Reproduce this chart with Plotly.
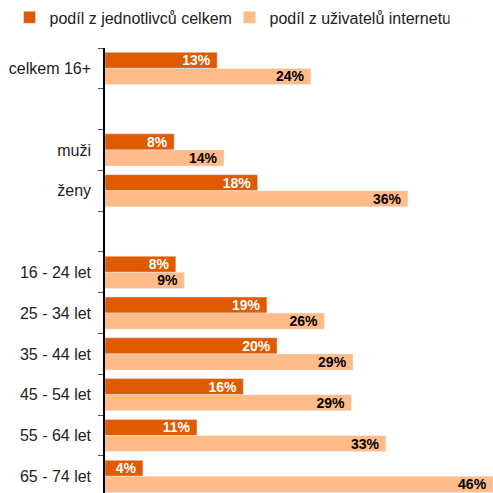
import plotly.graph_objects as go

categories = ["celkem 16+", " ", "muži", "ženy", "  ", "16 - 24 let", "25 - 34 let",
              "35 - 44 let", "45 - 54 let", "55 - 64 let", "65 - 74 let"]
celkem = [13.3, None, 8.2, 18.1, None, 8.4, 19.2, 20.4, 16.4, 10.9, 4.5]
internet = [24.4, None, 14.1, 35.9, None, 9.4, 26.0, 29.4, 29.2, 33.3, 46.0]
series_names = ["podíl z jednotlivců celkem", "podíl z uživatelů internetu"]

def labels(vals):
    return [("" if v is None else f"{round(v)}%") for v in vals]

fig = go.Figure()
fig.add_trace(go.Bar(
    y=categories, x=celkem, name=series_names[0], orientation="h",
    marker_color="#E05A00", text=labels(celkem), textposition="inside",
    insidetextanchor="end", textfont=dict(color="white", size=14, family="Liberation Sans"),
    texttemplate="<b>%{text}</b>\u00a0", cliponaxis=False,
))
fig.add_trace(go.Bar(
    y=categories, x=internet, name=series_names[1], orientation="h",
    marker_color="#FFBB88", text=labels(internet), textposition="inside",
    insidetextanchor="end", textfont=dict(color="black", size=14, family="Liberation Sans"),
    texttemplate="<b>%{text}</b>\u00a0", cliponaxis=False,
))

fig.update_layout(
    width=493, height=493,
    margin=dict(l=105, r=0, t=48, b=0, autoexpand=False),
    barmode="group", bargap=0.21, bargroupgap=0,
    plot_bgcolor="white", paper_bgcolor="white",
    font=dict(family="Liberation Sans", size=16, color="#222222"),
    uniformtext=dict(minsize=14, mode="show"),
    showlegend=True,
    legend=dict(orientation="h", xref="paper", yref="paper",
                x=-0.246, y=1.107, xanchor="left", yanchor="top",
                font=dict(size=16), entrywidth=175, entrywidthmode="pixels",
                itemwidth=30, traceorder="normal"),
)
fig.update_xaxes(range=[0, 46.0], visible=False)
fig.update_yaxes(
    type="category", categoryorder="array", categoryarray=categories,
    range=[10.41, -0.5], tickson="boundaries", ticks="outside", ticklen=5,
    tickcolor="#555555", showline=True, linecolor="black", linewidth=1.5,
    showgrid=False, tickfont=dict(size=16, color="#222222"), ticklabelstandoff=9,
    automargin=False,
)
fig.write_html("out.html", config={"displayModeBar": False},
               post_script="document.body.style.margin='0';document.body.style.padding='0';")
